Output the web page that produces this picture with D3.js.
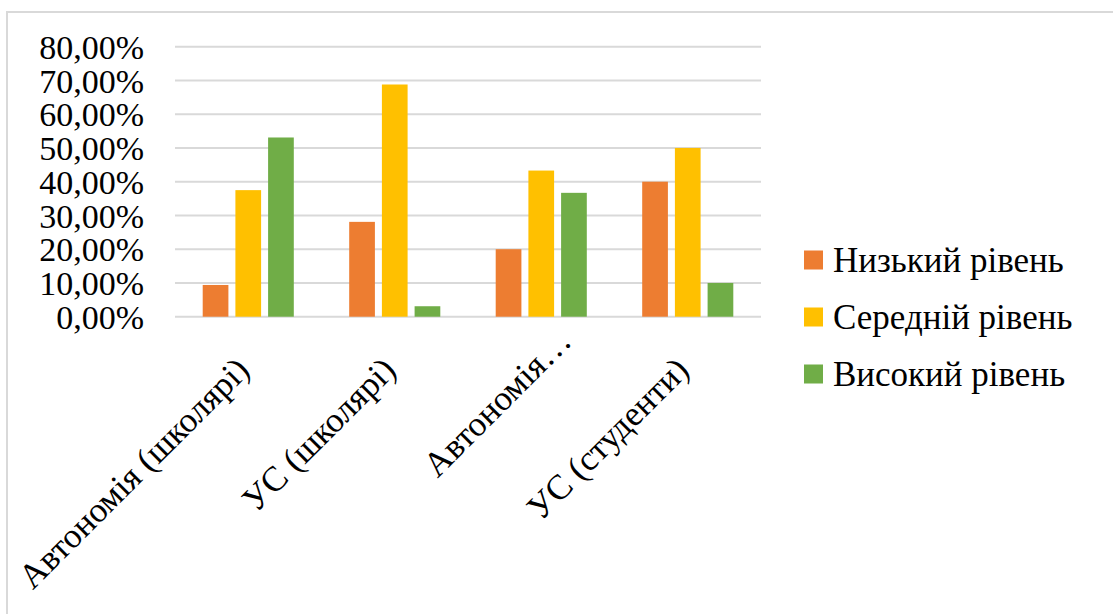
<!DOCTYPE html>
<html>
<head>
<meta charset="utf-8">
<script src="https://cdn.jsdelivr.net/npm/d3@7/dist/d3.min.js"></script>
<style>
  html, body { margin: 0; padding: 0; background: #fff; }
  svg { display: block; }
  svg text { font-family: "Times New Roman", Times, "Liberation Serif", "DejaVu Serif", "Noto Serif", Tinos, serif !important; fill: #000; }
</style>
</head>
<body>
<svg id="chart" width="1113" height="614"></svg>
<script>
const categories = ["Автономія (школярі)", "УС (школярі)", "Автономія…", "УС (студенти)"];
const seriesNames = ["Низький рівень", "Середній рівень", "Високий рівень"];
const lowValues = [9.4, 28.1, 20.0, 40.0];
const midValues = [37.5, 68.8, 43.3, 50.0];
const highValues = [53.1, 3.1, 36.7, 10.0];
const yTicks = [0, 10, 20, 30, 40, 50, 60, 70, 80];
const colors = ["#ED7D31", "#FFC000", "#70AD47"];

const seriesValues = [lowValues, midValues, highValues];
const svg = d3.select("#chart");

// chart frame
svg.append("rect")
  .attr("x", 7).attr("y", 12)
  .attr("width", 1200).attr("height", 700)
  .attr("fill", "none").attr("stroke", "#d9d9d9").attr("stroke-width", 2);

const plot = { left: 175, right: 761, top: 46.7, bottom: 316.7 };

const x0 = d3.scaleBand().domain(categories).range([plot.left, plot.right]).padding(0);
const x1 = d3.scaleBand().domain(seriesNames).range([0, x0.bandwidth()])
  .paddingInner(0.214).paddingOuter(0.847);
const y = d3.scaleLinear().domain([0, 80]).range([plot.bottom, plot.top]);

const fmt = v => d3.format(".2f")(v).replace(".", ",") + "%";

// gridlines
svg.append("g")
  .selectAll("line").data(yTicks).join("line")
  .attr("x1", plot.left).attr("x2", plot.right)
  .attr("y1", d => y(d)).attr("y2", d => y(d))
  .attr("stroke", "#d9d9d9").attr("stroke-width", 2);

// y axis labels
const yAxis = d3.axisLeft(y).tickValues(yTicks).tickFormat(fmt).tickSize(0).tickPadding(0);
const gy = svg.append("g").attr("transform", "translate(144,0)").call(yAxis);
gy.attr("font-family", null);
gy.select(".domain").remove();
gy.selectAll("text")
  .attr("font-size", 34).attr("fill", "#000").attr("dy", "0.34em");

// bars
const groups = svg.append("g").selectAll("g").data(categories).join("g")
  .attr("transform", d => `translate(${x0(d)},0)`);
groups.selectAll("rect")
  .data((c, ci) => seriesNames.map((s, si) => ({ s, si, v: seriesValues[si][ci] })))
  .join("rect")
  .attr("x", d => x1(d.s))
  .attr("width", x1.bandwidth())
  .attr("y", d => y(d.v))
  .attr("height", d => y(0) - y(d.v))
  .attr("fill", d => colors[d.si]);

// x labels (rotated)
const xl = svg.append("g");
xl.selectAll("text").data(categories).join("text")
  .attr("text-anchor", "end")
  .attr("font-size", 35)
  .attr("transform", d => {
    let cx = x0(d) + x0.bandwidth() / 2 + 3;
    let cy = 372;
    if (d.endsWith("…")) { cx += 29; cy -= 29; }
    return `translate(${cx},${cy}) rotate(-45)`;
  })
  .text(d => d);

// legend
const lg = svg.append("g").attr("transform", "translate(804,0)");
const rowY = [260, 317, 374];
const items = lg.selectAll("g").data(seriesNames).join("g")
  .attr("transform", (d, i) => `translate(0,${rowY[i]})`);
items.append("rect").attr("x", 0).attr("y", -9.5).attr("width", 19).attr("height", 19)
  .attr("fill", (d, i) => colors[i]);
items.append("text").attr("x", 29).attr("dy", "0.35em").attr("font-size", 35).text(d => d);
</script>
</body>
</html>
